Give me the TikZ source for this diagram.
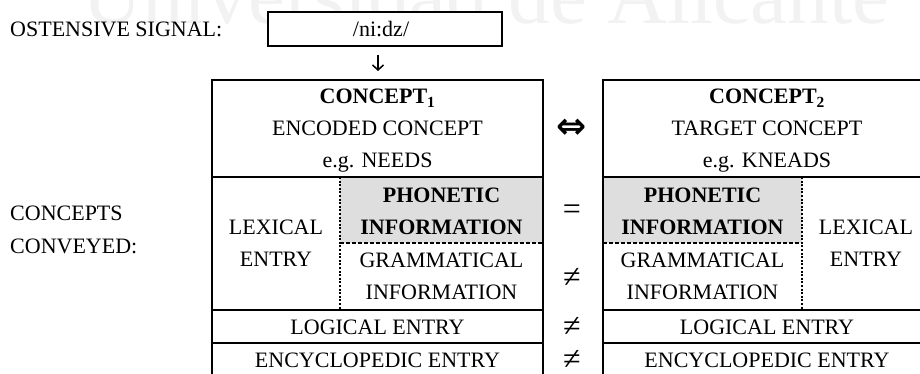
\documentclass[tikz,border=0pt]{standalone}
\usepackage{fontspec}
\setmainfont{Liberation Serif}
\newfontfamily\symfont{DejaVu Sans}
\usetikzlibrary{arrows.meta}

\begin{document}
\begin{tikzpicture}[x=1pt,y=-1pt,
  rule/.style={line width=1.2pt},
  dotrule/.style={line width=1.2pt, dash pattern=on 2pt off 1.6pt},
  dashrule/.style={line width=1.7pt, dash pattern=on 4pt off 2pt},
  cell/.style={align=center, inner sep=0pt, font=\fontsize{22}{32}\selectfont},
  label/.style={align=left, inner sep=0pt, anchor=west, font=\fontsize{22}{33}\selectfont},
  rel/.style={inner sep=0pt, font=\fontsize{32}{36}\selectfont},
  shade/.style={fill=black!13},
]
\useasboundingbox (0,0) rectangle (920,374);
\begin{scope}
\clip (0,0) rectangle (920,374);

% faint watermark behind everything
\node[anchor=base west, inner sep=0pt, text=black!5,
      font=\fontsize{83}{83}\selectfont] (wm) at (82,24) {Universidad de Alicante};

% the ostensive signal
\node[label] (ost) at (10,29) {OSTENSIVE SIGNAL:};
\node[draw, fill=white, line width=1.2pt, minimum width=234pt, minimum height=34pt,
      inner sep=0pt, font=\fontsize{22}{26}\selectfont] (sig) at (385,29) {/ni:dz/\hspace*{8pt}};
\coordinate (arrtop) at (378,55);
\coordinate (arrbot) at (378,71);
\draw[line width=1.5pt, -{Straight Barb[length=5pt,width=11pt,line width=1.5pt]}] (arrtop) -- (arrbot);

\node[label] (conv) at (10,230) {CONCEPTS\\CONVEYED:};

% ---- left table (concept 1) ----
\fill[shade] (340,177) rectangle (543,243);
\draw[rule] (212,400) -- (212,80) -- (543,80) -- (543,400);
\draw[rule] (212,177) -- (543,177);
\draw[rule] (212,310) -- (543,310);
\draw[rule] (212,343) -- (543,343);
\draw[dotrule] (340,177) -- (340,310);
\draw[dashrule] (340,243) -- (543,243);

\node[cell] (head1) at (377.5,131) {\textbf{CONCEPT\textsubscript{1}}\\ENCODED CONCEPT\\e.g. NEEDS};
\node[cell] (lex1) at (276,243.5) {LEXICAL\\ENTRY};
\node[cell] (phon1) at (441.5,211) {\textbf{PHONETIC}\\\textbf{INFORMATION}};
\node[cell] (gram1) at (441.5,276) {GRAMMATICAL\\INFORMATION};
\node[cell] (log1) at (377.5,327) {LOGICAL ENTRY};
\node[cell] (enc1) at (377.5,360) {ENCYCLOPEDIC ENTRY};

% ---- relations between the two concepts ----
\node[inner sep=0pt, font=\symfont\bfseries\fontsize{36}{40}\selectfont] (r0) at (572,129) {⇔};
\node[rel] (r1) at (572,212) {=};
\node[rel] (r2) at (572,278) {≠};
\node[rel] (r3) at (572,327) {≠};
\node[rel] (r4) at (572,360) {≠};

% ---- right table (concept 2) ----
\fill[shade] (603,177) rectangle (802,243);
\draw[rule] (603,400) -- (603,80) -- (940,80);
\draw[rule] (603,177) -- (940,177);
\draw[rule] (603,310) -- (940,310);
\draw[rule] (603,343) -- (940,343);
\draw[dotrule] (802,177) -- (802,310);
\draw[dashrule] (603,243) -- (802,243);

\node[cell] (head2) at (767,131) {\textbf{CONCEPT\textsubscript{2}}\\TARGET CONCEPT\\e.g. KNEADS};
\node[cell] (phon2) at (702.5,211) {\textbf{PHONETIC}\\\textbf{INFORMATION}};
\node[cell] (gram2) at (702.5,276) {GRAMMATICAL\\INFORMATION};
\node[cell] (lex2) at (866,243.5) {LEXICAL\\ENTRY};
\node[cell] (log2) at (767,327) {LOGICAL ENTRY};
\node[cell] (enc2) at (767,360) {ENCYCLOPEDIC ENTRY};
\end{scope}
\end{tikzpicture}
\end{document}
